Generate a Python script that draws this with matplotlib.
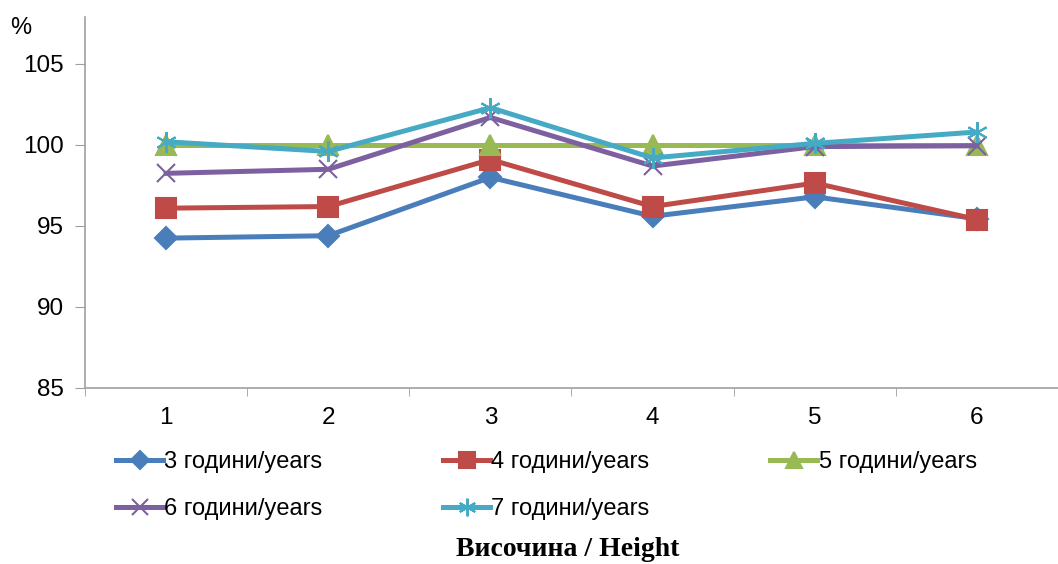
import matplotlib.pyplot as plt
from matplotlib.ticker import FixedLocator, NullFormatter

# data
heights = [1, 2, 3, 4, 5, 6]
y3 = [94.25, 94.4, 98.0, 95.6, 96.8, 95.45]
y4 = [96.1, 96.2, 99.1, 96.2, 97.65, 95.4]
y5 = [100.0, 100.0, 100.0, 100.0, 100.0, 100.0]
y6 = [98.25, 98.5, 101.7, 98.7, 99.9, 99.95]
y7 = [100.2, 99.6, 102.3, 99.2, 100.1, 100.8]
labels = ["3 години/years", "4 години/years", "5 години/years",
          "6 години/years", "7 години/years"]

plt.rcParams["font.family"] = ["Liberation Sans", "DejaVu Sans"]

fig = plt.figure(figsize=(10.58, 5.64), dpi=100)
ax = fig.add_axes([85 / 1058, 1 - 388 / 564, (1058 - 85) / 1058, (388 - 17) / 564])

styles = [
    ("#4A7EBB", "D", 11),
    ("#BE4B48", "s", 14),
    ("#98B954", "^", 14),
    ("#7D60A0", "x", 13),
    ("#46AAC5", (6, 2, 0), 15),
]
series = [y3, y4, y5, y6, y7]
lines = []
for ys, lab, (c, m, ms) in zip(series, labels, styles):
    ln, = ax.plot(heights, ys, color=c, lw=3.6, marker=m, markersize=ms,
                  markeredgecolor=c, markerfacecolor=c, markeredgewidth=1.5, label=lab)
    lines.append(ln)

ax.set_xlim(0.5, 6.5)
ax.set_ylim(85, 107.9)
ax.set_yticks([85, 90, 95, 100, 105])
ax.set_xticks(heights)
ax.xaxis.set_minor_locator(FixedLocator([0.5, 1.5, 2.5, 3.5, 4.5, 5.5, 6.5]))
ax.xaxis.set_minor_formatter(NullFormatter())
ax.tick_params(axis="x", which="major", length=0, pad=14, labelsize=17.5)
ax.tick_params(axis="x", which="minor", length=6, color="#A0A0A0", direction="out")
ax.tick_params(axis="y", length=7, color="#A0A0A0", labelsize=17.5, pad=8)

for s in ["top", "right"]:
    ax.spines[s].set_visible(False)
for s in ["left", "bottom"]:
    ax.spines[s].set_color("#A0A0A0")
    ax.spines[s].set_linewidth(1.2)

fig.text(10 / 1058, 1 - 28 / 564, "%", fontsize=17, va="center")

# legend filled column by column, so reorder to read row by row
order = [0, 3, 1, 4, 2]
fig.legend([lines[i] for i in order], [labels[i] for i in order],
           loc="upper left", bbox_to_anchor=(116 / 1058, 1 - 451 / 564), ncol=3,
           frameon=False, fontsize=17, handlelength=2.0, handletextpad=0.05,
           columnspacing=5.1, labelspacing=1.05, borderpad=0, borderaxespad=0,
           markerscale=0.85)

fig.text(568 / 1058, 1 - 549 / 564, "Височина / Height", ha="center", va="center",
         fontsize=20, fontweight="bold", family=["Liberation Serif", "DejaVu Serif"])

fig.savefig("out.png", dpi=100)
